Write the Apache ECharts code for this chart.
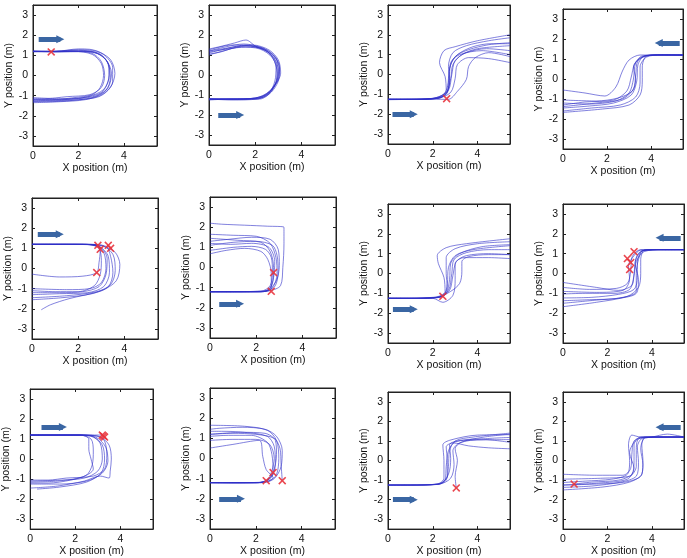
<!DOCTYPE html>
<html><head><meta charset="utf-8">
<script src="https://cdn.jsdelivr.net/npm/echarts@6/dist/echarts.min.js"></script>
<style>html,body{margin:0;padding:0;background:#fff}#c{width:687px;height:558px}</style>
</head><body><div id="c"></div>
<script>
// ---------- tick labels ----------
const xTicks = [0, 2, 4];
const yTicks = [-3, -2, -1, 0, 1, 2, 3];
const xTitle = 'X position (m)';
const yTitle = 'Y position (m)';

// ---------- panel 1 ----------
const panel1Paths = [
 [[0,1.2],[1,1.18],[2,1.22],[2.7,1.15],[3.2,0.8],[3.45,0.1],[3.3,-0.6],[2.8,-1.0],[2,-1.15],[1,-1.2],[0,-1.2]],
 [[0,1.18],[1,1.2],[2,1.28],[2.8,1.2],[3.4,0.8],[3.6,0.1],[3.4,-0.6],[2.9,-1.05],[2,-1.2],[1,-1.25],[0,-1.28]],
 [[0,1.2],[1,1.17],[2,1.18],[2.6,1.1],[3.0,0.7],[3.15,0],[3.0,-0.6],[2.5,-0.95],[1.5,-1.05],[0.5,-1.15],[0,-1.15]],
 [[0,1.22],[1,1.2],[2,1.32],[2.5,1.3],[3.1,1.05],[3.5,0.4],[3.5,-0.3],[3.1,-0.9],[2.3,-1.2],[1.2,-1.3],[0,-1.35]],
 [[0,1.2],[1,1.2],[1.8,1.2],[2.6,1.05],[3.0,0.6],[3.1,0],[2.95,-0.6],[2.6,-0.95],[1.8,-1.1],[0.8,-1.2],[0,-1.2]],
 [[0,1.18],[1,1.2],[2,1.25],[2.9,1.1],[3.3,0.6],[3.4,-0.1],[3.2,-0.75],[2.6,-1.1],[1.6,-1.25],[0.6,-1.3],[0,-1.3]],
 [[0,1.2],[1,1.18],[2.2,1.2],[3.0,1.0],[3.35,0.4],[3.3,-0.3],[3.0,-0.85],[2.2,-1.1],[1.2,-1.15],[0,-1.1]],
 [[0,1.2],[1,1.2],[2,1.2],[2.7,1.15],[3.25,0.7],[3.35,0],[3.1,-0.7],[2.4,-1.05],[1.4,-1.2],[0,-1.25]]
];
const panel1Marks = [[0.8,1.17]];
const panel1Arrow = [[0.25,1.8],[1.2,1.8]];

// ---------- panel 2 ----------
const panel2Paths = [
 [[0,-1.2],[1,-1.2],[2,-1.18],[2.5,-0.95],[2.9,-0.4],[3.0,0.2],[2.85,0.8],[2.4,1.25],[1.6,1.5],[0.8,1.35],[0,1.2]],
 [[0,-1.22],[1,-1.22],[2,-1.15],[2.6,-0.85],[3.0,-0.2],[3.05,0.4],[2.8,1.0],[2.2,1.4],[1.4,1.45],[0.5,1.25],[0,1.1]],
 [[0,-1.2],[1,-1.25],[2.1,-1.2],[2.7,-0.8],[2.95,-0.1],[2.9,0.6],[2.6,1.1],[2,1.45],[1.6,1.75],[1.1,1.6],[0.4,1.4],[0,1.3]],
 [[0,-1.25],[1,-1.2],[2,-1.2],[2.55,-1.0],[2.85,-0.5],[2.95,0.1],[2.75,0.85],[2.2,1.3],[1.4,1.4],[0.6,1.2],[0,1.0]],
 [[0,-1.2],[1.2,-1.2],[2.2,-1.1],[2.7,-0.7],[3.0,0],[2.95,0.7],[2.5,1.2],[1.8,1.45],[1.0,1.5],[0.3,1.35],[0,1.25]],
 [[0,-1.22],[1,-1.22],[2.3,-1.12],[2.8,-0.6],[3.1,0.1],[3.0,0.75],[2.6,1.25],[1.9,1.5],[1.2,1.4],[0.5,1.15],[0,1.05]],
 [[0,-1.18],[1,-1.2],[2,-1.15],[2.6,-0.9],[2.85,-0.3],[2.9,0.4],[2.7,0.95],[2.3,1.35],[1.5,1.55],[0.7,1.4],[0,1.2]],
 [[0,-1.2],[1,-1.2],[2.2,-1.2],[2.7,-0.85],[3.0,-0.3],[3.05,0.3],[2.85,0.9],[2.4,1.3],[1.6,1.4],[0.8,1.3],[0,1.15]]
];
const panel2Marks = [];
const panel2Arrow = [[0.4,-2],[1.35,-2]];

// ---------- panel 3 ----------
const panel3Paths = [
 [[0,-1.25],[1,-1.25],[2,-1.22],[2.5,-1.0],[2.7,-0.4],[2.75,0.3],[3.0,0.9],[3.6,1.25],[4.5,1.5],[5.45,1.6]],
 [[0,-1.25],[1.2,-1.25],[2.2,-1.15],[2.6,-0.8],[2.55,-0.1],[2.3,0.6],[2.5,1.2],[3.0,1.4],[4.0,1.7],[5.45,2.0]],
 [[0,-1.25],[1,-1.25],[2,-1.2],[2.6,-0.9],[2.8,-0.2],[2.9,0.5],[3.3,1.0],[4.0,1.3],[5.45,1.45]],
 [[0,-1.25],[1,-1.25],[2.2,-1.2],[2.7,-0.8],[2.85,0],[3.0,0.7],[3.5,1.1],[4.4,1.3],[5.45,1.2]],
 [[0,-1.27],[1,-1.25],[2.3,-1.2],[2.7,-0.7],[2.75,0],[2.8,0.6],[3.2,1.0],[4.2,1.2],[5.45,1.0]],
 [[0,-1.25],[1,-1.25],[2.1,-1.2],[2.6,-1.0],[2.75,-0.3],[2.7,0.4],[2.9,1.1],[3.5,1.45],[4.5,1.7],[5.45,1.85]],
 [[0,-1.25],[1,-1.25],[2,-1.25],[2.7,-1.25],[3.1,-0.85],[3.5,-0.25],[3.6,0.4],[3.9,0.85],[4.5,1.1],[5.45,0.9]],
 [[0,-1.25],[1,-1.25],[2.2,-1.2],[2.8,-0.9],[3.0,-0.2],[3.1,0.5],[3.6,0.85],[4.5,0.8],[5.45,0.6]],
 [[0,-1.25],[1,-1.25],[2.2,-1.2],[2.65,-0.9],[2.7,-0.2],[2.8,0.5],[3.1,1.0],[3.8,1.4],[4.6,1.55],[5.45,1.55]]
];
const panel3Marks = [[2.62,-1.22]];
const panel3Arrow = [[0.2,-2],[1.15,-2]];

// ---------- panel 4 ----------
const panel4Paths = [
 [[5.45,1.2],[4.5,1.2],[3.7,1.15],[3.3,0.8],[3.2,0],[3.0,-0.7],[2.4,-1.1],[1.2,-1.25],[0,-1.2]],
 [[5.45,1.2],[4.5,1.2],[3.8,1.1],[3.5,0.6],[3.5,-0.2],[3.3,-0.9],[2.6,-1.3],[1.3,-1.45],[0,-1.6]],
 [[5.45,1.2],[4.4,1.2],[3.6,1.1],[3.2,0.6],[3.3,0],[3.15,-0.6],[2.5,-0.95],[1.5,-1.1],[0,-1.05]],
 [[5.45,1.2],[4.3,1.2],[3.5,1.2],[3.0,0.95],[2.7,0.4],[2.4,-0.4],[1.9,-0.85],[1.0,-0.7],[0,-0.55]],
 [[5.45,1.2],[4.5,1.22],[3.7,1.15],[3.4,0.7],[3.35,-0.1],[3.1,-0.8],[2.3,-1.2],[1.2,-1.35],[0,-1.45]],
 [[5.45,1.18],[4.5,1.2],[3.8,1.15],[3.6,0.6],[3.6,-0.1],[3.5,-0.8],[3.0,-1.3],[1.8,-1.5],[0,-1.67]],
 [[5.45,1.2],[4.4,1.2],[3.6,1.15],[3.25,0.75],[3.1,0.1],[2.9,-0.6],[2.3,-1.05],[1.0,-1.15],[0,-1.3]],
 [[5.45,1.2],[4.5,1.2],[3.9,1.18],[3.4,0.9],[3.3,0.2],[3.2,-0.5],[2.7,-1.0],[1.5,-1.2],[0,-1.38]]
];
const panel4Marks = [];
const panel4Arrow = [[5.3,1.8],[4.35,1.8]];

// ---------- panel 5 ----------
const panel5Paths = [
 [[0,1.2],[1,1.2],[2,1.2],[2.7,1.15],[3.1,0.8],[3.2,0],[3.0,-0.7],[2.5,-1.0],[1.5,-1.05],[0,-1.0]],
 [[0,1.2],[1,1.2],[2.2,1.2],[2.9,1.1],[3.3,0.6],[3.35,-0.2],[3.1,-0.9],[2.4,-1.2],[1.2,-1.25],[0,-1.3]],
 [[0,1.2],[1,1.2],[2.3,1.2],[3.0,1.15],[3.5,0.7],[3.6,-0.1],[3.4,-0.8],[2.8,-1.15],[1.5,-1.35],[0,-1.45]],
 [[0,1.2],[1,1.2],[2.4,1.2],[3.1,1.1],[3.6,0.8],[3.8,0.2],[3.65,-0.6],[3.0,-1.1],[1.6,-1.5],[0.8,-1.8],[0.4,-2.05]],
 [[0,1.2],[1.2,1.2],[2.5,1.18],[2.9,1.0],[3.0,0.4],[2.95,-0.3],[2.7,-0.85],[2.0,-1.15],[1.0,-1.15],[0,-1.1]],
 [[0,1.2],[1.2,1.2],[2.4,1.2],[3.2,1.1],[3.4,0.6],[3.5,-0.2],[3.3,-0.9],[2.6,-1.25],[1.3,-1.45],[0,-1.55]],
 [[0,1.2],[1,1.2],[2,1.2],[2.8,1.15],[2.95,0.9],[2.9,0.3],[2.8,-0.2],[2.2,-0.38],[1.2,-0.42],[0,-0.28]],
 [[0,1.2],[1,1.2],[2.2,1.2],[2.95,1.05],[3.25,0.5],[3.2,-0.3],[2.9,-0.9],[2.2,-1.15],[1.2,-1.2],[0,-1.2]]
];
const panel5Marks = [[2.85,1.15],[3.3,1.15],[3.4,1.0],[2.95,0.95],[2.8,-0.2]];
const panel5Arrow = [[0.25,1.7],[1.2,1.7]];

// ---------- panel 6 ----------
const panel6Paths = [
 [[0,-1.2],[1,-1.2],[2,-1.2],[2.6,-1.15],[3.05,-0.9],[3.15,0],[3.2,1.2],[3.2,2.0],[2.5,2.05],[1.5,2.1],[0.5,2.15],[0,2.2]],
 [[0,-1.2],[1,-1.2],[2.2,-1.2],[2.7,-1.0],[2.9,-0.3],[2.85,0.5],[2.6,1.2],[2.0,1.55],[1.0,1.6],[0,1.65]],
 [[0,-1.2],[1.2,-1.22],[2.3,-1.2],[2.7,-0.8],[2.75,0],[2.6,0.8],[2.2,1.25],[1.2,1.35],[0,1.45]],
 [[0,-1.22],[1,-1.2],[2.2,-1.18],[2.6,-0.9],[2.7,-0.2],[2.65,0.5],[2.4,0.9],[1.8,1.05],[1.0,1.0],[0,0.85]],
 [[0,-1.2],[1,-1.2],[2.3,-1.2],[2.8,-0.95],[2.95,-0.2],[2.9,0.6],[2.7,1.1],[2.0,1.3],[1.0,1.25],[0,1.1]],
 [[0,-1.2],[1.1,-1.2],[2.2,-1.2],[2.65,-1.05],[2.65,-0.3],[2.5,0.4],[2.2,0.8],[1.5,0.95],[0.7,0.85],[0,0.68]],
 [[0,-1.2],[1,-1.2],[2.4,-1.15],[2.85,-0.7],[3.0,0.1],[2.95,0.9],[2.6,1.4],[1.8,1.5],[0.8,1.4],[0,1.3]],
 [[0,-1.2],[1,-1.2],[2.1,-1.2],[2.55,-1.1],[2.75,-0.5],[2.8,0.3],[2.55,1.0],[1.8,1.2],[0.9,1.15],[0,1.2]]
];
const panel6Marks = [[2.75,-0.25],[2.65,-1.18]];
const panel6Arrow = [[0.4,-1.8],[1.3,-1.8]];

// ---------- panel 7 ----------
const panel7Paths = [
 [[0,-1.25],[1,-1.25],[2,-1.2],[2.5,-1.1],[2.65,-0.5],[2.7,0.3],[3.0,0.9],[3.8,1.2],[5.45,1.4]],
 [[0,-1.25],[1,-1.25],[2.1,-1.2],[2.55,-0.9],[2.5,-0.2],[2.25,0.5],[2.2,0.9],[2.6,1.3],[3.5,1.5],[5.45,1.75]],
 [[0,-1.25],[1,-1.25],[2.2,-1.2],[2.8,-0.9],[3.2,-0.5],[3.3,0.1],[3.3,0.6],[3.6,0.85],[4.5,0.95],[5.45,0.95]],
 [[0,-1.25],[1,-1.25],[2.2,-1.22],[2.6,-1.0],[2.75,-0.3],[2.8,0.5],[3.2,1.0],[4.2,1.35],[5.45,1.45]],
 [[0,-1.25],[1,-1.25],[2,-1.25],[2.45,-1.45],[2.9,-1.1],[3.0,-0.3],[3.0,0.5],[3.4,0.8],[4.5,0.8],[5.45,0.75]],
 [[0,-1.25],[1,-1.25],[2.2,-1.2],[2.7,-0.85],[2.85,0],[2.95,0.7],[3.5,1.05],[4.5,1.2],[5.45,1.2]],
 [[0,-1.25],[1,-1.25],[2.3,-1.2],[2.65,-0.7],[2.6,0],[2.6,0.8],[3.0,1.25],[4.0,1.5],[5.45,1.6]],
 [[0,-1.25],[1,-1.25],[2.3,-1.2],[2.75,-0.85],[2.9,-0.1],[3.05,0.6],[3.5,0.9],[4.5,1.0],[5.45,0.95]]
];
const panel7Marks = [[2.45,-1.15]];
const panel7Arrow = [[0.22,-1.8],[1.15,-1.8]];

// ---------- panel 8 ----------
const panel8Paths = [
 [[5.45,1.2],[4.5,1.2],[3.6,1.15],[3.3,0.8],[3.2,0],[3.1,-0.6],[2.5,-0.85],[1.5,-0.7],[0,-0.45]],
 [[5.45,1.2],[4.5,1.2],[3.6,1.15],[3.35,0.6],[3.35,-0.2],[3.2,-0.8],[2.5,-1.05],[1.3,-1.2],[0,-1.23]],
 [[5.45,1.2],[4.4,1.2],[3.5,1.18],[3.2,0.9],[2.95,0.4],[3.0,-0.3],[2.7,-0.85],[1.5,-0.95],[0,-0.9]],
 [[5.45,1.2],[4.5,1.2],[3.7,1.2],[3.5,0.7],[3.5,0],[3.4,-0.7],[2.9,-1.15],[1.5,-1.45],[0,-1.67]],
 [[5.45,1.2],[4.5,1.2],[3.5,1.2],[3.1,0.8],[3.05,0.1],[2.9,-0.5],[2.4,-0.75],[1.2,-0.8],[0,-0.7]],
 [[5.45,1.2],[4.4,1.2],[3.6,1.15],[3.4,0.7],[3.3,0],[3.3,-0.9],[2.7,-1.2],[1.4,-1.35],[0,-1.5]],
 [[5.45,1.2],[4.5,1.2],[3.65,1.1],[3.3,0.6],[3.2,-0.1],[3.0,-0.8],[2.3,-1.0],[1.0,-1.0],[0,-1.03]],
 [[5.45,1.2],[4.4,1.2],[3.55,1.15],[3.25,0.5],[3.4,-0.3],[3.3,-1.0],[2.5,-1.25],[1.2,-1.32],[0,-1.37]]
];
const panel8Marks = [[3.2,1.1],[2.9,0.75],[3.05,0.55],[3.0,0.2]];
const panel8Arrow = [[5.3,1.8],[4.35,1.8]];

// ---------- panel 9 ----------
const panel9Paths = [
 [[0,1.2],[1,1.2],[2,1.2],[2.7,1.15],[3.1,0.8],[3.2,0],[3.0,-0.6],[2.4,-0.95],[1.4,-1.05],[0,-1.1]],
 [[0,1.2],[1,1.2],[2.2,1.2],[2.9,1.1],[3.35,0.6],[3.45,-0.1],[3.2,-0.7],[2.5,-1.1],[1.3,-1.25],[0,-1.25]],
 [[0,1.2],[1,1.2],[2.2,1.2],[2.7,1.0],[2.8,0.4],[2.75,-0.3],[2.5,-0.8],[1.8,-1.05],[0.8,-1.2],[0,-1.2]],
 [[0,1.2],[1,1.2],[2.3,1.2],[3.1,1.1],[3.5,0.7],[3.6,0],[3.55,-0.6],[3.5,-0.95],[3.1,-0.85],[2.4,-1.1],[1.2,-1.35],[0,-1.45]],
 [[0,1.2],[1,1.2],[2.2,1.2],[2.8,1.1],[3.2,0.7],[3.3,0],[3.15,-0.7],[2.5,-1.15],[1.3,-1.4],[0.3,-1.5]],
 [[0,1.2],[1,1.2],[2.3,1.2],[3.0,1.15],[3.3,0.9],[3.4,0.2],[3.3,-0.5],[2.8,-0.85],[1.6,-0.95],[0.8,-1.05],[0,-1.05]],
 [[0,1.2],[1.2,1.2],[2.5,1.2],[3.2,1.2],[3.25,1.12]],
 [[0,1.2],[1,1.2],[2.2,1.2],[2.6,1.0],[2.6,0.5],[2.7,0],[2.8,-0.5],[2.3,-0.9],[1.2,-1.1],[0,-1.15]]
];
const panel9Marks = [[3.2,1.2],[3.3,1.1],[3.25,1.15]];
const panel9Arrow = [[0.5,1.6],[1.45,1.6]];

// ---------- panel 10 ----------
const panel10Paths = [
 [[0,-1.2],[1,-1.2],[2,-1.2],[2.6,-1.1],[2.9,-0.8],[3.0,0],[2.9,0.9],[2.5,1.4],[1.5,1.6],[0,1.65]],
 [[0,-1.2],[1,-1.2],[2.2,-1.18],[2.7,-0.9],[2.85,-0.2],[2.8,0.6],[2.5,1.1],[1.5,1.3],[0.5,1.35],[0,1.35]],
 [[0,-1.2],[1,-1.2],[2.1,-1.2],[2.6,-1.0],[2.75,-0.7],[2.7,0.2],[2.5,0.8],[1.8,1.15],[0.8,1.15],[0,1.1]],
 [[0,-1.2],[1,-1.2],[2.2,-1.2],[2.75,-0.95],[2.45,-0.55],[2.3,0.1],[2.15,0.9],[1.0,0.7],[0,0.52]],
 [[0,-1.2],[1,-1.2],[2.3,-1.2],[2.8,-1.0],[3.1,-0.4],[3.15,0.4],[2.9,1.1],[2.4,1.45],[1.4,1.55],[0.4,1.5],[0,1.45]],
 [[0,-1.2],[1,-1.22],[2.1,-1.2],[2.5,-1.1],[2.7,-0.6],[2.8,0],[2.6,0.7],[2.0,0.95],[1.0,0.95],[0,0.9]],
 [[0,1.2],[1,1.25],[2.0,1.2],[2.8,1.0],[3.05,0.5],[3.1,-0.3],[3.15,-1.1]],
 [[0,-1.2],[1,-1.2],[2.0,-1.2],[2.45,-1.1],[2.75,-0.7],[2.9,0.2],[2.85,0.9],[2.4,1.25],[1.4,1.3],[0,1.2]]
];
const panel10Marks = [[2.75,-0.7],[2.45,-1.1],[3.15,-1.1]];
const panel10Arrow = [[0.4,-2],[1.35,-2]];

// ---------- panel 11 ----------
const panel11Paths = [
 [[0,-1.25],[1,-1.25],[2.2,-1.22],[2.6,-1.0],[2.7,-0.3],[2.75,0.5],[3.0,1.0],[3.8,1.2],[5.45,1.4]],
 [[0,-1.25],[1,-1.25],[2.2,-1.2],[2.5,-0.9],[2.5,0],[2.45,0.8],[2.8,1.05],[4.0,1.3],[5.45,1.32]],
 [[0,-1.25],[1,-1.25],[2.3,-1.2],[2.8,-0.9],[2.95,-0.2],[2.9,0.5],[3.2,0.9],[4.2,1.1],[5.45,1.18]],
 [[0,-1.25],[1,-1.25],[2.3,-1.2],[2.7,-0.7],[2.8,0.1],[2.75,0.8],[3.1,1.0],[4.2,1.05],[5.45,1.07]],
 [[0,-1.25],[1,-1.25],[2.2,-1.2],[2.65,-0.8],[2.65,0],[2.6,0.7],[2.9,0.9],[3.6,0.75],[4.5,0.65],[5.45,0.6]],
 [[3.05,-1.4],[3.0,-0.8],[3.1,0],[3.0,0.6],[3.3,0.95],[4.3,1.2],[5.45,1.35]],
 [[0,-1.25],[1,-1.25],[2.2,-1.22],[2.55,-1.0],[2.6,-0.3],[2.7,0.5],[3.0,0.95],[4.0,1.1],[5.45,0.93]]
];
const panel11Marks = [[3.05,-1.4]];
const panel11Arrow = [[0.22,-2],[1.15,-2]];

// ---------- panel 12 ----------
const panel12Paths = [
 [[5.45,1.2],[4.5,1.2],[3.6,1.2],[3.2,1.0],[3.1,0.3],[3.05,-0.4],[2.7,-0.75],[1.5,-0.75],[0,-0.7]],
 [[5.45,1.2],[4.7,1.35],[4.0,1.2],[3.4,1.1],[3.3,0.5],[3.3,-0.3],[3.0,-0.8],[1.8,-0.9],[0,-0.95]],
 [[5.45,1.2],[4.5,1.2],[3.7,1.15],[3.5,0.6],[3.6,-0.2],[3.5,-0.8],[2.8,-1.1],[1.5,-1.2],[0,-1.25]],
 [[5.45,1.2],[4.4,1.2],[3.5,1.2],[3.1,1.3],[2.95,0.8],[3.0,0],[2.9,-0.7],[2.2,-0.95],[1.0,-1.05],[0,-1.12]],
 [[5.45,1.2],[4.5,1.2],[3.6,1.15],[3.35,0.7],[3.4,-0.1],[3.3,-0.8],[2.6,-1.1],[1.3,-1.3],[0,-1.37]],
 [[5.45,1.2],[4.4,1.2],[3.7,1.2],[3.55,0.8],[3.6,0],[3.55,-0.7],[3.0,-1.1],[1.8,-1.35],[0,-1.5]],
 [[5.45,1.2],[4.5,1.2],[3.5,1.2],[3.2,0.8],[3.2,0],[3.1,-0.7],[2.5,-1.0],[1.3,-1.1],[0.5,-1.2]],
 [[5.45,1.2],[4.6,1.2],[3.8,1.2],[3.3,1.05],[3.0,0.4],[3.2,-0.4],[2.9,-0.95],[1.6,-1.15],[0,-1.25]]
];
const panel12Marks = [[0.5,-1.2]];
const panel12Arrow = [[5.3,1.7],[4.35,1.7]];

// ---------- assemble ----------
const panels = [
 [panel1Paths, panel1Marks, panel1Arrow], [panel2Paths, panel2Marks, panel2Arrow],
 [panel3Paths, panel3Marks, panel3Arrow], [panel4Paths, panel4Marks, panel4Arrow],
 [panel5Paths, panel5Marks, panel5Arrow], [panel6Paths, panel6Marks, panel6Arrow],
 [panel7Paths, panel7Marks, panel7Arrow], [panel8Paths, panel8Marks, panel8Arrow],
 [panel9Paths, panel9Marks, panel9Arrow], [panel10Paths, panel10Marks, panel10Arrow],
 [panel11Paths, panel11Marks, panel11Arrow], [panel12Paths, panel12Marks, panel12Arrow]
];
// grid boxes: left, top, width, height (px)
const boxes = [
 [33,5,124,141],[209,5,126,140],[388,5,122,139],[563,9,120,140],
 [32,198,126,141],[210,197,126,141],[388,204,122,139],[563,204,121,139],
 [27,389,126,142],[210,388,125,141],[388,392,122,140],[563,392,121,140]
];
const FONT = '"Liberation Sans", Arial, sans-serif';
const crossPath = 'path://M0,1.4 L1.4,0 L5,3.6 L8.6,0 L10,1.4 L6.4,5 L10,8.6 L8.6,10 L5,6.4 L1.4,10 L0,8.6 L3.6,5 Z';

const grid = [], xAxis = [], yAxis = [], series = [];
const txt = {fontFamily: FONT, fontSize: 10.5, color: '#111'};
boxes.forEach((b, i) => {
  grid.push({left: b[0], top: b[1], width: b[2], height: b[3], show: true, borderColor: '#222', borderWidth: 1, backgroundColor: '#fff'});
  const xa = {gridIndex: i, type: 'value', min: 0, max: 5.45, splitLine: {show: false},
    axisLine: {onZero: false, lineStyle: {color: '#222', width: 1}},
    axisTick: {inside: true, length: 3, customValues: xTicks, lineStyle: {color: '#222'}}};
  xAxis.push(Object.assign({}, xa, {position: 'bottom',
    axisLabel: Object.assign({customValues: xTicks, margin: 5}, txt),
    name: xTitle, nameLocation: 'middle', nameGap: 16, nameTextStyle: txt}));
  xAxis.push(Object.assign({}, xa, {position: 'top', axisLabel: {show: false}}));
  const ya = {gridIndex: i, type: 'value', min: -3.5, max: 3.5, splitLine: {show: false},
    axisLine: {onZero: false, lineStyle: {color: '#222', width: 1}},
    axisTick: {inside: true, length: 3, customValues: yTicks, lineStyle: {color: '#222'}}};
  yAxis.push(Object.assign({}, ya, {position: 'left',
    axisLabel: Object.assign({customValues: yTicks, margin: 5}, txt),
    name: yTitle, nameLocation: 'middle', nameGap: 17, nameTextStyle: txt}));
  yAxis.push(Object.assign({}, ya, {position: 'right', axisLabel: {show: false}}));

  const [paths, marks, arrow] = panels[i];
  paths.forEach(p => series.push({type: 'line', xAxisIndex: 2*i, yAxisIndex: 2*i, data: p,
    smooth: 0.3, showSymbol: false, silent: true,
    lineStyle: {color: '#2f2fc8', width: 1, opacity: 0.6}}));
  series.push({type: 'lines', coordinateSystem: 'cartesian2d', xAxisIndex: 2*i, yAxisIndex: 2*i,
    data: [{coords: arrow}], symbol: ['none', 'triangle'], symbolSize: [11, 8], silent: true,
    lineStyle: {color: '#3a66a3', width: 5, opacity: 1}, itemStyle: {color: '#3a66a3'}});
  if (marks.length) series.push({type: 'scatter', xAxisIndex: 2*i, yAxisIndex: 2*i, data: marks,
    symbol: crossPath, symbolSize: 8, silent: true, itemStyle: {color: '#e8333c', opacity: 0.9}, z: 5});
});

const chart = echarts.init(document.getElementById('c'), null, {renderer: 'canvas'});
chart.setOption({animation: false, backgroundColor: '#fff', grid, xAxis, yAxis, series});
</script></body></html>
